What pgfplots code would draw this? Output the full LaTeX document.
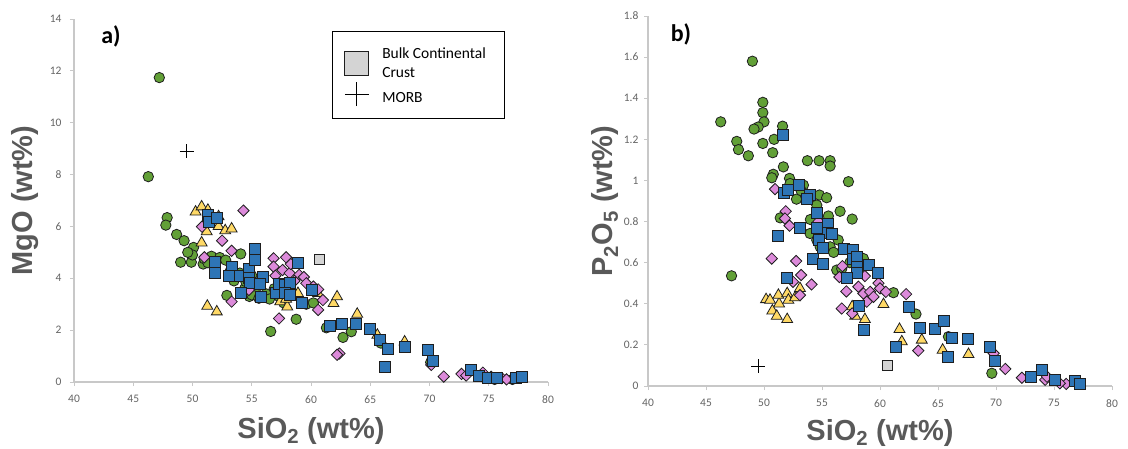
\documentclass[border=0pt]{standalone}
\usepackage{fontspec}
\setmainfont{Carlito}
\newfontfamily\arialf{Liberation Sans}
\usepackage{pgfplots}
\pgfplotsset{compat=1.18}
\definecolor{cgreen}{RGB}{98,160,55}
\definecolor{cblue}{RGB}{46,117,182}
\definecolor{cyellow}{RGB}{255,217,102}
\definecolor{cpink}{RGB}{220,138,218}
\definecolor{ccrust}{RGB}{212,212,212}
\definecolor{mkline}{RGB}{30,30,30}
\definecolor{axgray}{RGB}{200,200,200}
\definecolor{tickgray}{RGB}{100,100,100}
\definecolor{labgray}{RGB}{89,89,89}
\pgfplotsset{
  myax/.style={
    scale only axis,
    axis x line*=bottom, axis y line*=left,
    axis line style={draw=axgray, line width=1.2pt, -},
    tick style={draw=axgray, line width=0.8pt},
    tick align=outside, major tick length=4pt,
    ticklabel style={font=\fontsize{11.5}{13}\selectfont, text=tickgray},
    xticklabel style={yshift=-6pt},
    /pgf/number format/assume math mode=true,
    xmin=40, xmax=80, xtick={40,45,...,80},
    clip=false,
    label style={font=\arialf\bfseries\fontsize{29}{32}\selectfont, text=labgray},
  },
  gr/.style={only marks, mark=*, mark size=5.2pt, mark options={draw=mkline, fill=cgreen, line width=0.8pt}, forget plot},
  ye/.style={only marks, mark=triangle*, mark size=6.3pt, mark options={draw=mkline, fill=cyellow, line width=0.8pt}, forget plot},
  pk/.style={only marks, mark=square*, mark size=4pt, mark options={rotate=45, draw=mkline, fill=cpink, line width=0.8pt}, forget plot},
  bl/.style={only marks, mark=square*, mark size=5.5pt, mark options={draw=mkline, fill=cblue, line width=0.8pt}, forget plot},
  cr/.style={only marks, mark=square*, mark size=5pt, mark options={draw=mkline, fill=ccrust, line width=0.8pt}},
  mo/.style={only marks, mark=+, mark size=7pt, mark options={draw=black, line width=0.8pt}},
}
\begin{document}
\begin{tikzpicture}
\useasboundingbox (0,0) rectangle (1128pt,448pt);
% ---------------- a) MgO ----------------
\begin{axis}[myax,
  at={(74pt,66pt)}, anchor=south west,
  width=474pt, height=363pt,
  ymin=0, ymax=14, ytick={0,2,...,14},
  yticklabel style={xshift=-5pt},
  xlabel={SiO\textsubscript{2} (wt\%)},
  xlabel style={at={(axis description cs:0.5,0)}, anchor=base, yshift=-56pt},
  ylabel={MgO (wt\%)},
  ylabel style={at={(axis description cs:0,0.5)}, anchor=center, yshift=49pt},
  legend style={at={(rel axis cs:0.544,0.967)}, anchor=north west, draw=black, line width=1.2pt,
    font=\fontsize{15.5}{18.5}\selectfont, inner xsep=12pt, inner ysep=12pt, row sep=6pt,
    /tikz/every odd column/.append style={column sep=11pt}},
  legend cell align=left,
]
\addplot[gr] coordinates {
(47.2,11.74) (46.27,7.92) (47.86,6.34) (47.75,6.05) (48.66,5.69) (49.29,5.45)
(50.09,5.19) (49.0,4.62) (49.9,4.62) (50.0,4.9) (50.9,4.55) (51.0,4.75) (51.6,4.85)
(52.3,4.8) (52.8,4.7) (54.07,4.94) (52.9,3.34) (53.5,3.9) (54.0,4.2) (54.4,3.6)
(54.8,3.3) (55.3,3.5) (55.6,3.75) (56.2,3.4) (56.5,3.2) (56.9,3.6) (57.3,3.3)
(57.7,3.05) (56.6,1.95) (58.75,2.42) (59.6,3.0) (60.2,3.05) (61.3,2.09) (62.7,1.72)
(63.4,1.94) (65.9,1.5) (70.1,0.76) (74.5,0.2) (75.5,0.1) (77.0,0.1) (53.2,4.3)
(55.0,4.1) (55.0,3.36) (55.6,3.23) (54.5,3.87) (49.6,5.0) (51.3,4.6) (57.8,3.6)
};
\addplot[ye] coordinates {
(50.26,6.56) (50.77,6.76) (51.3,6.63) (52.2,6.38) (52.2,6.0) (52.76,5.84) (53.3,5.91)
(51.2,5.8) (50.77,5.37) (51.25,2.93) (52.05,2.71) (57.4,3.1) (58.0,2.9) (58.9,3.42)
(60.6,3.42) (61.9,3.03) (62.2,3.29) (63.9,2.62) (65.6,1.81) (67.9,1.55) (57.9,3.2)
};
\addplot[pk] coordinates {
(54.3,6.61) (50.8,5.99) (52.5,5.45) (53.3,5.06) (51.0,4.81) (56.84,4.77) (57.9,4.81)
(56.84,4.45) (57.6,4.32) (58.2,4.2) (59.0,4.13) (59.4,4.05) (59.6,3.81) (60.2,3.68)
(60.6,3.57) (58.6,3.9) (57.0,4.1) (58.3,4.55) (54.76,3.55) (53.3,3.1) (57.3,2.45)
(60.6,2.78) (61.0,3.16) (62.4,1.1) (62.2,1.05) (70.15,0.66) (71.2,0.21) (72.7,0.31)
(73.1,0.25) (74.5,0.36) (76.1,0.15) (76.5,0.1) (75.2,0.2)
};
\addplot[bl] coordinates {
(51.34,6.44) (51.4,6.18) (52.1,6.31) (51.9,4.62) (51.9,4.19) (53.3,4.45) (53.1,4.1)
(54.0,4.1) (54.76,4.37) (54.76,4.0) (54.85,3.81) (55.3,5.12) (55.3,4.7) (55.96,4.04)
(55.67,3.77) (55.76,3.29) (54.1,3.42) (57.0,3.42) (57.3,3.78) (57.8,3.74) (58.2,3.81)
(57.8,3.44) (58.2,3.36) (58.9,4.58) (59.2,3.07) (60.1,3.57) (61.6,2.16) (62.6,2.26)
(63.8,2.26) (65.0,2.04) (65.8,1.62) (66.5,1.27) (66.2,0.59) (67.9,1.36) (69.9,1.23)
(70.3,0.82) (73.5,0.46) (74.2,0.24) (74.9,0.14) (75.7,0.14) (77.3,0.14) (77.8,0.2)
};
\addplot[cr, legend image code/.code={\draw[draw=mkline, fill=ccrust, line width=0.8pt] (0pt,-18pt) rectangle (24pt,6pt);}]
  coordinates {(60.7,4.72)};
\addlegendentry{\begin{tabular}{@{}l@{}}Bulk Continental\hspace*{5pt}\\Crust\end{tabular}}
\addplot[mo, legend image code/.code={\draw[black, line width=0.8pt] (0pt,4pt) -- (24pt,4pt) (12pt,-8pt) -- (12pt,16pt);}]
  coordinates {(49.5,8.9)};
\addlegendentry{MORB}
\node[font=\bfseries\fontsize{24}{28}\selectfont, anchor=center] at (rel axis cs:0.078,0.953) {a)};
\end{axis}
% ---------------- b) P2O5 ----------------
\begin{axis}[myax,
  at={(648pt,62pt)}, anchor=south west,
  width=464pt, height=370pt,
  ymin=0, ymax=1.8, ytick={0,0.2,...,1.8},
  yticklabel style={/pgf/number format/fixed, xshift=-2pt},
  xlabel={SiO\textsubscript{2} (wt\%)},
  xlabel style={at={(axis description cs:0.5,0)}, anchor=base, yshift=-54pt},
  ylabel={P\textsubscript{2}O\textsubscript{5} (wt\%)},
  ylabel style={at={(axis description cs:0,0.5)}, anchor=center, yshift=43pt},
]
\addplot[gr] coordinates {
(49.0,1.58) (46.27,1.285) (49.9,1.38) (49.9,1.33) (50.0,1.285) (49.5,1.26) (49.14,1.25)
(51.6,1.264) (47.65,1.19) (47.8,1.15) (48.65,1.12) (49.9,1.18) (50.87,1.2) (50.75,1.135)
(51.67,1.066) (53.74,1.096) (54.75,1.096) (55.7,1.096) (55.7,1.07) (57.28,0.994)
(50.8,1.03) (50.67,1.013) (52.2,1.01) (52.25,0.985) (53.4,0.977) (52.8,0.909)
(54.78,0.929) (55.4,0.916) (56.56,0.85) (57.6,0.812) (54.55,0.88) (51.4,0.818)
(54.0,0.81) (53.97,0.742) (55.55,0.827) (55.7,0.742) (54.55,0.71) (54.84,0.677)
(55.7,0.677) (56.0,0.65) (56.4,0.71) (56.27,0.564) (58.57,0.62) (47.2,0.536)
(61.16,0.454) (63.1,0.35) (65.9,0.24) (69.64,0.062) (56.7,0.57) (53.2,0.95) (57.4,0.6)
};
\addplot[ye] coordinates {
(50.18,0.421) (50.52,0.418) (50.72,0.366) (51.1,0.34) (51.3,0.4) (51.24,0.442)
(52.0,0.45) (52.1,0.418) (52.0,0.324) (52.68,0.43) (53.1,0.475) (57.6,0.386)
(57.86,0.34) (58.7,0.324) (60.3,0.397) (61.68,0.276) (61.88,0.216) (63.6,0.224)
(65.4,0.175) (67.63,0.154)
};
\addplot[pk] coordinates {
(50.95,0.958) (51.87,0.85) (51.8,0.815) (52.2,0.78) (50.67,0.62) (52.77,0.608)
(53.2,0.54) (52.5,0.507) (54.1,0.494) (53.1,0.442) (54.7,0.8) (56.76,0.583)
(56.5,0.53) (57.1,0.46) (56.7,0.377) (57.6,0.353) (58.14,0.483) (58.7,0.535)
(58.57,0.45) (59.15,0.458) (59.44,0.434) (59.87,0.5) (60.0,0.475) (60.5,0.458)
(58.86,0.41) (62.25,0.447) (63.3,0.172) (69.8,0.159) (70.8,0.083) (72.23,0.04)
(74.24,0.03) (74.4,0.045) (76.05,0.01) (75.5,0.013)
};
\addplot[bl] coordinates {
(51.67,1.22) (51.24,0.731) (53.0,0.98) (51.73,0.94) (52.1,0.956) (53.97,0.929)
(53.74,0.909) (54.55,0.843) (53.1,0.77) (54.55,0.767) (55.55,0.788) (55.5,0.747)
(55.84,0.742) (54.7,0.71) (55.1,0.674) (56.85,0.669) (57.65,0.661) (57.7,0.616)
(58.0,0.629) (58.0,0.58) (58.0,0.548) (59.0,0.588) (59.8,0.55) (54.2,0.616)
(55.1,0.592) (51.96,0.528) (57.14,0.528) (58.2,0.389) (58.57,0.272) (62.45,0.386)
(63.46,0.284) (61.36,0.188) (64.7,0.28) (65.47,0.318) (66.2,0.232) (65.85,0.143)
(67.57,0.227) (69.44,0.19) (69.93,0.123) (73.0,0.045) (73.96,0.078) (75.1,0.03)
(76.83,0.026) (77.26,0.01)
};
\addplot[cr] coordinates {(60.6,0.102)};
\addplot[mo] coordinates {(49.5,0.097)};
\node[font=\bfseries\fontsize{24}{28}\selectfont, anchor=center] at (rel axis cs:0.071,0.951) {b)};
\end{axis}
\end{tikzpicture}
\end{document}
